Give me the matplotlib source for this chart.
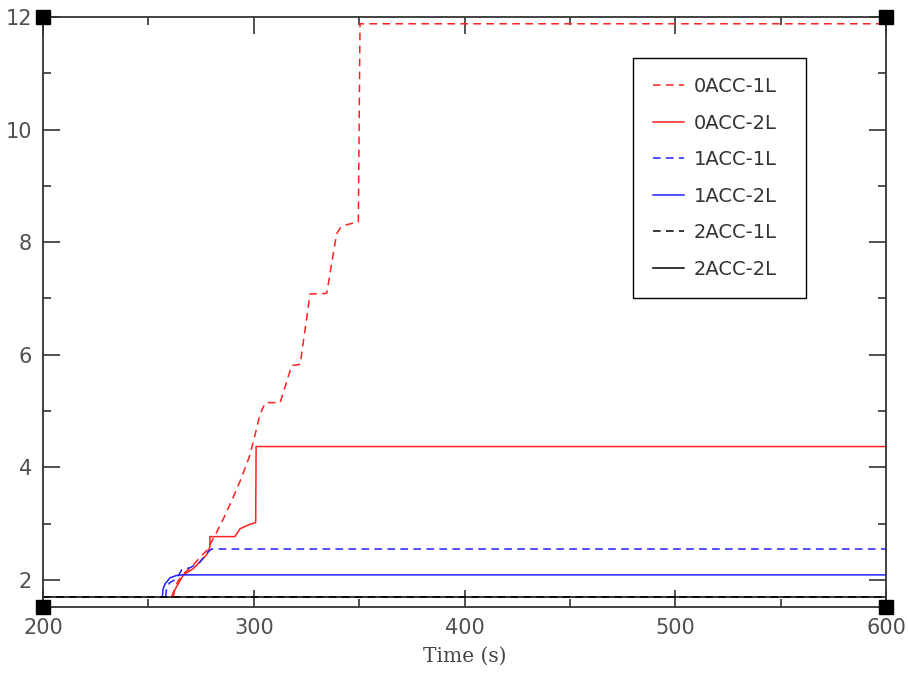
import matplotlib
matplotlib.use('Agg')
import matplotlib.pyplot as plt
from matplotlib.ticker import MultipleLocator

# time (s) / value pairs for each run
t_0acc_1l = [261.8, 262.6, 264.0, 267.0, 270.0, 274.0, 277.8, 282.0, 286.0, 290.0, 294.0, 298.0,
             300.6, 303.0, 305.5, 312.5, 318.0, 322.0, 326.7, 334.6, 339.3, 341.0, 344.0, 349.6,
             350.4, 600.0]
v_0acc_1l = [1.70, 1.85, 1.98, 2.12, 2.22, 2.38, 2.53, 2.82, 3.12, 3.45, 3.80, 4.20,
             4.58, 4.95, 5.15, 5.15, 5.81, 5.83, 7.08, 7.09, 8.15, 8.25, 8.31, 8.36,
             11.88, 11.88]

t_0acc_2l = [261.0, 261.8, 263.4, 266.6, 271.3, 277.7, 279.2, 279.2, 291.0, 293.5, 298.2,
             300.9, 301.1, 600.0]
v_0acc_2l = [1.70, 1.78, 1.88, 2.09, 2.20, 2.45, 2.59, 2.77, 2.77, 2.91, 2.99,
             3.02, 4.37, 4.37]

t_1acc_1l = [258.2, 258.6, 260.0, 263.4, 265.8, 270.0, 274.5, 278.4, 280.0, 600.0]
v_1acc_1l = [1.70, 1.85, 1.95, 2.02, 2.18, 2.22, 2.32, 2.50, 2.55, 2.55]

t_1acc_2l = [256.6, 256.9, 257.9, 260.3, 263.4, 265.8, 600.0]
v_1acc_2l = [1.70, 1.83, 1.93, 2.04, 2.08, 2.09, 2.09]

t_2acc_1l = [200.0, 600.0]
v_2acc_1l = [1.70, 1.70]

t_2acc_2l = [200.0, 600.0]
v_2acc_2l = [1.70, 1.70]

x_min, x_max = 200, 600
y_min, y_max = 1.52, 12

fig = plt.figure(figsize=(9.08, 6.81), dpi=100)
ax = fig.add_axes([0.0474, 0.1087, 0.9284, 0.8663])

dash = (0, (5, 3.5))
ax.plot(t_0acc_1l, v_0acc_1l, color='#ff2020', lw=1.1, linestyle=dash, label='0ACC-1L')
ax.plot(t_0acc_2l, v_0acc_2l, color='#ff2020', lw=1.1, label='0ACC-2L')
ax.plot(t_1acc_1l, v_1acc_1l, color='#2020ff', lw=1.1, linestyle=dash, label='1ACC-1L')
ax.plot(t_1acc_2l, v_1acc_2l, color='#2020ff', lw=1.1, label='1ACC-2L')
ax.plot(t_2acc_1l, v_2acc_1l, color='black', lw=1.1, linestyle=dash, label='2ACC-1L')
ax.plot(t_2acc_2l, v_2acc_2l, color='black', lw=1.1, label='2ACC-2L')

ax.set_xlim(x_min, x_max)
ax.set_ylim(y_min, y_max)
ax.xaxis.set_major_locator(MultipleLocator(100))
ax.xaxis.set_minor_locator(MultipleLocator(50))
ax.yaxis.set_major_locator(MultipleLocator(2))
ax.yaxis.set_minor_locator(MultipleLocator(1))
ax.tick_params(which='both', direction='in', top=True, right=True, colors='#333333',
               labelcolor='#505050', labelsize=15, width=1.2)
ax.tick_params(which='major', length=12, pad=8)
ax.tick_params(which='minor', length=6)
for s in ax.spines.values():
    s.set_linewidth(1.3)
    s.set_color('#333333')

ax.set_xlabel('Time (s)', family='DejaVu Serif', fontsize=14.5, color='#444444', labelpad=6)

# corner squares
ax.plot([x_min, x_max, x_min, x_max], [y_min, y_min, y_max, y_max], 's', color='black',
        markersize=9.5, clip_on=False, zorder=5)

leg = ax.legend(loc='upper left', bbox_to_anchor=(0.700, 0.53, 0.205, 0.401), mode='expand',
                fontsize=14, labelspacing=0.9, handlelength=1.6, handletextpad=0.5,
                borderpad=1.0, borderaxespad=0, fancybox=False, edgecolor='black',
                framealpha=1)
leg.get_frame().set_linewidth(1.0)
for txt in leg.get_texts():
    txt.set_color('#333333')

fig.savefig('out.png', dpi=100)
